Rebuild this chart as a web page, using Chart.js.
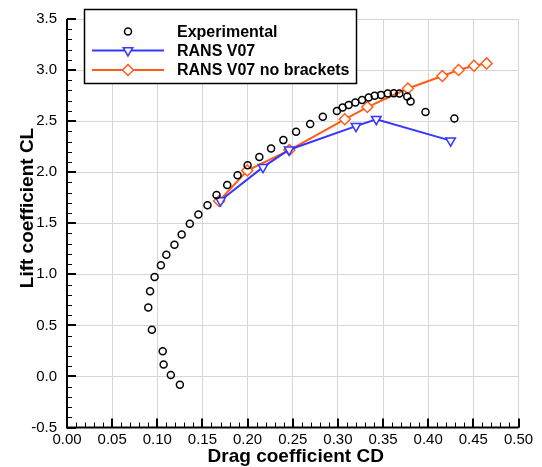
<!DOCTYPE html>
<html>
<head>
<meta charset="utf-8">
<script src="https://cdn.jsdelivr.net/npm/chart.js@4.4.1/dist/chart.umd.min.js"></script>
<style>
    html, body { margin: 0; padding: 0; background: #fff; }
</style>
</head>
<body>
<canvas id="polarChart" width="542" height="467"></canvas>
<script>
// Datos experimentales (CD, CL)
const expCD = [0.125, 0.115, 0.107, 0.106, 0.094, 0.090, 0.092, 0.097, 0.104, 0.110, 0.119, 0.127, 0.136,
    0.1455, 0.1556, 0.1656, 0.1774, 0.1889, 0.200, 0.213, 0.226, 0.2396, 0.2537, 0.2693, 0.2833, 0.2989,
    0.3052, 0.3119, 0.3193, 0.3267, 0.3341, 0.3407, 0.3478, 0.3552, 0.3619, 0.3681, 0.3768, 0.3805, 0.3970, 0.4290];
const expCL = [-0.081, 0.013, 0.117, 0.247, 0.458, 0.675, 0.834, 0.974, 1.088, 1.192, 1.289, 1.390, 1.494,
    1.585, 1.676, 1.777, 1.874, 1.971, 2.068, 2.149, 2.233, 2.314, 2.395, 2.472, 2.544, 2.599,
    2.634, 2.657, 2.683, 2.706, 2.731, 2.748, 2.757, 2.770, 2.773, 2.770, 2.741, 2.692, 2.590, 2.526];

// RANS V07
const ransCD = [0.170, 0.217, 0.246, 0.320, 0.3425, 0.4248];
const ransCL = [1.722, 2.049, 2.220, 2.451, 2.519, 2.309];

// RANS V07 sin soportes
const nbCD = [0.1685, 0.1996, 0.2463, 0.3076, 0.3326, 0.3775, 0.4157, 0.4336, 0.4507, 0.4647];
const nbCL = [1.718, 2.016, 2.217, 2.518, 2.638, 2.819, 2.942, 3.000, 3.042, 3.065];

// Etiquetas de los ejes
const xTickVals = [0.00, 0.05, 0.10, 0.15, 0.20, 0.25, 0.30, 0.35, 0.40, 0.45, 0.50];
const yTickVals = [-0.5, 0.0, 0.5, 1.0, 1.5, 2.0, 2.5, 3.0, 3.5];
const xMinorStep = 0.01;
const yMinorStep = 0.1;

const FONT = "'Liberation Sans', Arial, Helvetica, sans-serif";
const BLUE = '#3636ff';
const ORANGE = '#ff5c16';

function pts(xs, ys) {
    return xs.map((x, i) => ({ x: x, y: ys[i] }));
}

function drawMarker(ctx, style, x, y, r, stroke) {
    ctx.save();
    ctx.beginPath();
    if (style === 'circle') {
        ctx.arc(x, y, r, 0, Math.PI * 2);
    } else if (style === 'triangleDown') {
        ctx.moveTo(x - r * 0.87, y - r * 0.5);
        ctx.lineTo(x + r * 0.87, y - r * 0.5);
        ctx.lineTo(x, y + r);
        ctx.closePath();
    } else {
        ctx.moveTo(x, y - r);
        ctx.lineTo(x + r, y);
        ctx.lineTo(x, y + r);
        ctx.lineTo(x - r, y);
        ctx.closePath();
    }
    ctx.fillStyle = '#fff';
    ctx.fill();
    ctx.lineWidth = 1.5;
    ctx.strokeStyle = stroke;
    ctx.stroke();
    ctx.restore();
}

// Ejes con marcas hacia adentro, leyenda y títulos
const axesPlugin = {
    id: 'axesPlugin',
    afterDatasetsDraw(chart) {
        const ctx = chart.ctx;
        const ca = chart.chartArea;
        const xs = chart.scales.x;
        const ys = chart.scales.y;
        ctx.save();
        ctx.strokeStyle = '#000';

        // marcas menores
        ctx.lineWidth = 1;
        ctx.beginPath();
        for (let v = xs.min; v <= xs.max + 1e-9; v += xMinorStep) {
            const px = Math.round(xs.getPixelForValue(v)) + 0.5;
            ctx.moveTo(px, ca.bottom);
            ctx.lineTo(px, ca.bottom - 5);
        }
        for (let v = ys.min; v <= ys.max + 1e-9; v += yMinorStep) {
            const py = Math.round(ys.getPixelForValue(v)) + 0.5;
            ctx.moveTo(ca.left, py);
            ctx.lineTo(ca.left + 5, py);
        }
        ctx.stroke();

        // marcas mayores
        ctx.lineWidth = 2;
        ctx.beginPath();
        xTickVals.forEach(v => {
            const px = Math.round(xs.getPixelForValue(v));
            ctx.moveTo(px, ca.bottom);
            ctx.lineTo(px, ca.bottom - 9);
        });
        yTickVals.forEach(v => {
            const py = Math.round(ys.getPixelForValue(v));
            ctx.moveTo(ca.left, py);
            ctx.lineTo(ca.left + 9, py);
        });
        ctx.stroke();

        // líneas de los ejes
        ctx.lineWidth = 2;
        ctx.beginPath();
        ctx.moveTo(ca.left, ca.top);
        ctx.lineTo(ca.left, ca.bottom);
        ctx.lineTo(ca.right, ca.bottom);
        ctx.stroke();

        // leyenda
        const box = { x: 84.5, y: 9.5, w: 272, h: 74 };
        ctx.fillStyle = '#fff';
        ctx.fillRect(box.x, box.y, box.w, box.h);
        ctx.lineWidth = 1.5;
        ctx.strokeRect(box.x, box.y, box.w, box.h);

        const rows = [
            { y: 31.5, line: null, style: 'circle', r: 3.5, color: '#000' },
            { y: 50.5, line: BLUE, style: 'triangleDown', r: 5.5, color: BLUE },
            { y: 70, line: ORANGE, style: 'rectRot', r: 5.5, color: ORANGE }
        ];
        ctx.font = 'bold 16px ' + FONT;
        ctx.textBaseline = 'middle';
        ctx.textAlign = 'left';
        rows.forEach((row, i) => {
            if (row.line) {
                ctx.strokeStyle = row.line;
                ctx.lineWidth = 2;
                ctx.beginPath();
                ctx.moveTo(92, row.y);
                ctx.lineTo(164, row.y);
                ctx.stroke();
            }
            drawMarker(ctx, row.style, 128, row.y, row.r, row.color);
            ctx.fillStyle = '#000';
            ctx.fillText(chart.data.datasets[i].label, 177, row.y + 1);
        });

        // títulos de los ejes
        ctx.fillStyle = '#000';
        ctx.font = 'bold 19px ' + FONT;
        ctx.textAlign = 'center';
        ctx.textBaseline = 'middle';
        ctx.fillText('Drag coefficient CD', (ca.left + ca.right) / 2 + 3, 457);
        ctx.translate(28, 208);
        ctx.rotate(-Math.PI / 2);
        ctx.fillText('Lift coefficient CL', 0, 0);
        ctx.restore();
    }
};

const ctx = document.getElementById('polarChart').getContext('2d');
new Chart(ctx, {
    type: 'scatter',
    data: {
        datasets: [{
            label: 'Experimental',
            data: pts(expCD, expCL),
            showLine: false,
            pointStyle: 'circle',
            pointRadius: 3.5,
            pointBorderWidth: 1.5,
            pointBorderColor: '#000',
            pointBackgroundColor: 'rgba(255,255,255,0)'
        }, {
            label: 'RANS V07',
            data: pts(ransCD, ransCL),
            showLine: true,
            borderColor: BLUE,
            borderWidth: 2,
            pointStyle: 'triangle',
            rotation: 180,
            pointRadius: 5.5,
            pointBorderWidth: 1.5,
            pointBorderColor: BLUE,
            pointBackgroundColor: '#fff'
        }, {
            label: 'RANS V07 no brackets',
            data: pts(nbCD, nbCL),
            showLine: true,
            borderColor: ORANGE,
            borderWidth: 2,
            pointStyle: 'rectRot',
            pointRadius: 5.5,
            pointBorderWidth: 1.5,
            pointBorderColor: ORANGE,
            pointBackgroundColor: '#fff'
        }]
    },
    options: {
        responsive: false,
        animation: false,
        layout: { padding: { top: 15.5, right: 23.5, left: 0, bottom: 0 } },
        plugins: {
            legend: { display: false },
            tooltip: { enabled: false }
        },
        scales: {
            x: {
                type: 'linear',
                min: 0,
                max: 0.5,
                afterBuildTicks: s => { s.ticks = xTickVals.map(v => ({ value: v })); },
                afterFit: s => { s.height = 39.5; },
                ticks: {
                    callback: v => v.toFixed(2),
                    font: { family: FONT, size: 15 },
                    color: '#000',
                    padding: 3,
                    maxRotation: 0,
                    autoSkip: false
                },
                grid: { color: '#d6d6d6', lineWidth: 1, drawTicks: false },
                border: { display: false }
            },
            y: {
                type: 'linear',
                min: -0.5,
                max: 3.5,
                afterBuildTicks: s => { s.ticks = yTickVals.map(v => ({ value: v })); },
                afterFit: s => { s.width = 67; },
                ticks: {
                    callback: v => v.toFixed(1),
                    font: { family: FONT, size: 15 },
                    color: '#000',
                    padding: 10,
                    autoSkip: false
                },
                grid: { color: '#d6d6d6', lineWidth: 1, drawTicks: false },
                border: { display: false }
            }
        }
    },
    plugins: [axesPlugin]
});
</script>
</body>
</html>
